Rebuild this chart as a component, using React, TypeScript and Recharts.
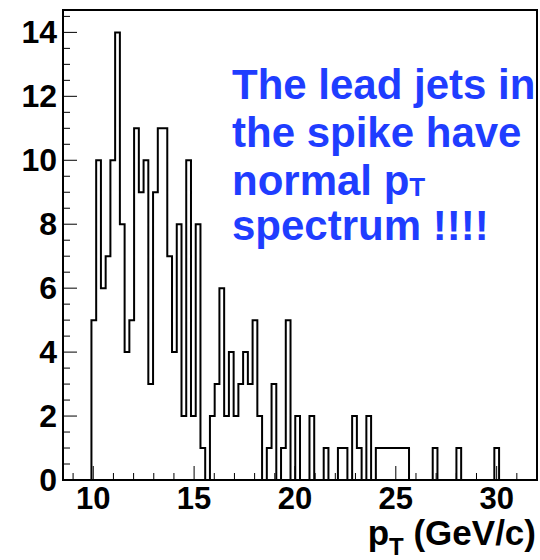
import React from 'react';
import { LineChart, Line, XAxis, YAxis, ReferenceArea } from 'recharts';

// histogram: 100 bins between X_MIN and X_MAX
const X_MIN = 8.5;
const X_MAX = 32;
const binCounts = [
  0, 0, 0, 0, 0, 0, 5, 10, 6, 7,
  10, 14, 8, 4, 5, 11, 9, 10, 3, 9,
  11, 11, 7, 4, 8, 2, 10, 2, 8, 1,
  0, 2, 3, 6, 2, 4, 2, 3, 4, 3,
  5, 2, 0, 1, 3, 0, 1, 5, 0, 2,
  0, 0, 2, 0, 0, 1, 0, 0, 1, 1,
  0, 2, 1, 0, 2, 0, 1, 1, 1, 1,
  1, 1, 1, 0, 0, 0, 0, 0, 1, 0,
  0, 0, 0, 1, 0, 0, 0, 0, 0, 0,
  0, 1, 0, 0, 0, 0, 0, 0, 0, 0,
];
const Y_MAX = 14.7;

const xLabelTicks = [10, 15, 20, 25, 30];
const xMinorTicks = [9, 10, 11, 12, 13, 14, 15, 16, 17, 18, 19, 20, 21, 22, 23, 24, 25, 26, 27, 28, 29, 30, 31];
const yLabelTicks = [0, 2, 4, 6, 8, 10, 12, 14];
const yMinorTicks = [0, 0.5, 1, 1.5, 2, 2.5, 3, 3.5, 4, 4.5, 5, 5.5, 6, 6.5, 7, 7.5, 8, 8.5, 9, 9.5, 10, 10.5, 11, 11.5, 12, 12.5, 13, 13.5, 14, 14.5];

const annotationLines = ['The lead jets in', 'the spike have', 'normal p', 'spectrum !!!!'];

const binWidth = (X_MAX - X_MIN) / binCounts.length;
const histData = binCounts.map((c, i) => ({ x: X_MIN + i * binWidth, y: c }));
histData.push({ x: X_MAX, y: binCounts[binCounts.length - 1] });

const W = 540;
const H = 560;
const X_AXIS_H = 80;
const Y_AXIS_W = 63;
const margin = { top: 10, right: 3, bottom: 0, left: 0 };
const PLOT_LEFT = margin.left + Y_AXIS_W;
const PLOT_BOTTOM = H - margin.bottom - X_AXIS_H;
const FONT = '"Liberation Sans", Arial, Helvetica, sans-serif';
const BLUE = '#1f3dff';

const XTick = (props: any) => {
  const { x, payload } = props;
  const v = payload.value;
  const major = xLabelTicks.includes(v);
  return (
    <g>
      <line x1={x} x2={x} y1={PLOT_BOTTOM} y2={PLOT_BOTTOM - (major ? 14 : 7)} stroke="#000" strokeWidth={1} />
      {major && (
        <text x={x} y={PLOT_BOTTOM + 29} textAnchor="middle" fontFamily={FONT} fontWeight="bold" fontSize={31} fill="#000">
          {v}
        </text>
      )}
    </g>
  );
};

const YTick = (props: any) => {
  const { y, payload } = props;
  const v = payload.value;
  const major = yLabelTicks.includes(v);
  return (
    <g>
      <line x1={PLOT_LEFT} x2={PLOT_LEFT + (major ? 14 : 7)} y1={y} y2={y} stroke="#000" strokeWidth={1} />
      {major && (
        <text x={57} y={y + 11} textAnchor="end" fontFamily={FONT} fontWeight="bold" fontSize={32} fill="#000">
          {v}
        </text>
      )}
    </g>
  );
};

export default function App() {
  return (
    <div style={{ position: 'absolute', left: 0, top: 0, width: W, height: H, background: '#fff' }}>
      <LineChart width={W} height={H} data={histData} margin={margin}>
        <XAxis
          type="number"
          dataKey="x"
          domain={[X_MIN, X_MAX]}
          ticks={xMinorTicks}
          interval={0}
          tick={<XTick />}
          tickLine={false}
          axisLine={false}
          height={X_AXIS_H}
          allowDataOverflow
        />
        <YAxis
          type="number"
          domain={[0, Y_MAX]}
          ticks={yMinorTicks}
          interval={0}
          tick={<YTick />}
          tickLine={false}
          axisLine={false}
          width={Y_AXIS_W}
          allowDataOverflow
        />
        <Line
          type="stepAfter"
          dataKey="y"
          stroke="#000"
          strokeWidth={2}
          dot={false}
          isAnimationActive={false}
        />
        <ReferenceArea x1={X_MIN} x2={X_MAX} y1={0} y2={Y_MAX} fill="none" stroke="#000" strokeWidth={2} />
      </LineChart>
      <svg width={W} height={H} style={{ position: 'absolute', left: 0, top: 0, pointerEvents: 'none' }}>
        <g fontFamily={FONT} fontWeight="bold" fill={BLUE} fontSize={42}>
          <text x={232} y={99}>{annotationLines[0]}</text>
          <text x={232} y={147}>{annotationLines[1]}</text>
          <text x={232} y={195}>
            {annotationLines[2]}
            <tspan fontSize={26} dy={1}>T</tspan>
          </text>
          <text x={232} y={240}>{annotationLines[3]}</text>
        </g>
        <text x={536} y={545} textAnchor="end" fontFamily={FONT} fontWeight="bold" fontSize={35} fill="#000">
          p<tspan fontSize={24} dy={10}>T</tspan>
          <tspan dy={-10}> (GeV/c)</tspan>
        </text>
      </svg>
    </div>
  );
}
